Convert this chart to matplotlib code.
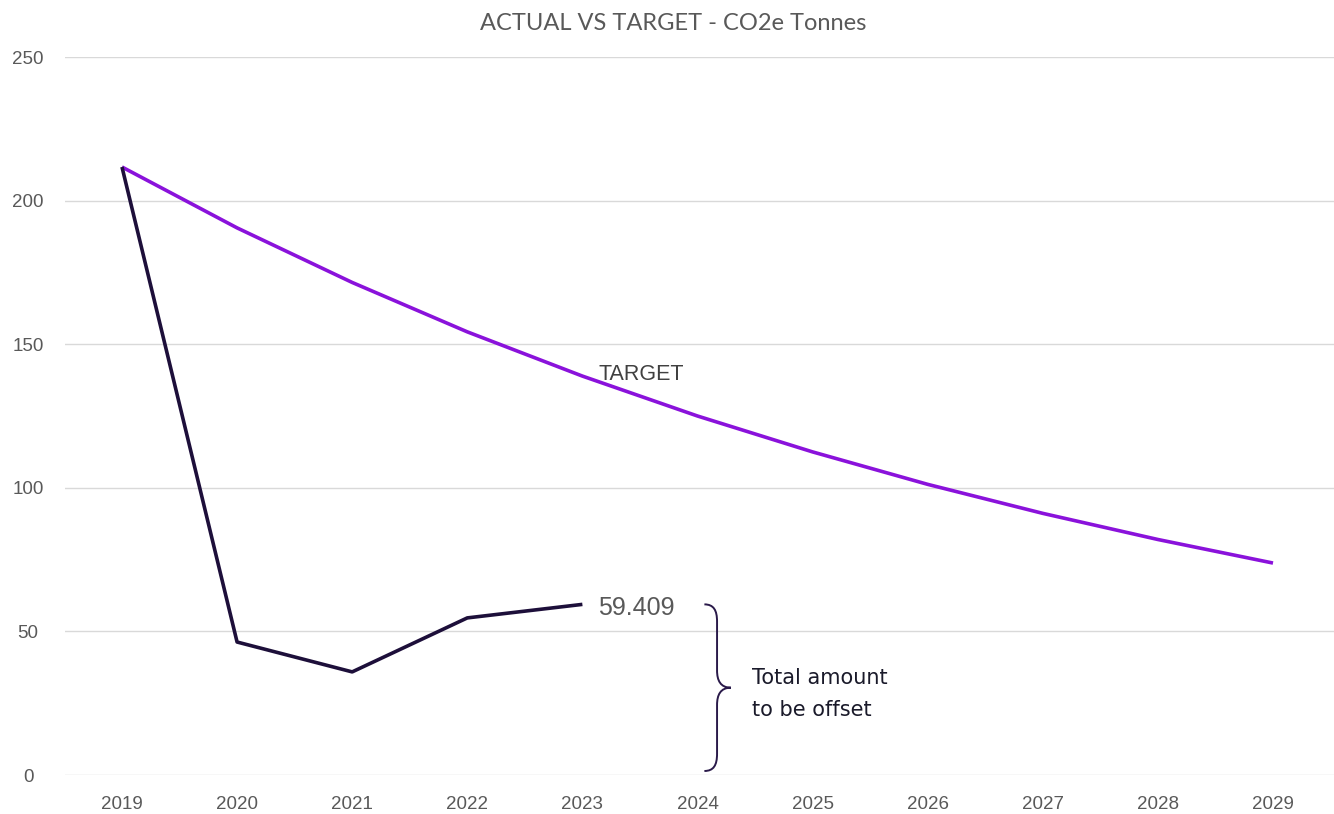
import matplotlib
matplotlib.use("Agg")
import matplotlib.pyplot as plt
from matplotlib.path import Path
from matplotlib.patches import PathPatch

years = [2019, 2020, 2021, 2022, 2023, 2024, 2025, 2026, 2027, 2028, 2029]
target = [211.7, 190.5, 171.5, 154.3, 138.9, 125.0, 112.5, 101.2, 91.1, 82.0, 73.8]
actual_years = [2019, 2020, 2021, 2022, 2023]
actual = [211.7, 46.3, 35.9, 54.7, 59.409]
yticks = [0, 50, 100, 150, 200, 250]
title = "ACTUAL VS TARGET - CO2e Tonnes"
target_label = "TARGET"
last_label = "59.409"
brace_text = "Total amount\nto be offset"

fig = plt.figure(figsize=(13.34, 8.14), dpi=100)
ax = fig.add_axes([65 / 1334, 1 - 775 / 814, 1 - 65 / 1334, (775 - 57) / 814])

ax.set_xlim(2018.505, 2029.53)
ax.set_ylim(0, 250)

ax.plot(years, target, color="#8a12db", lw=2.6, solid_capstyle="butt", zorder=3)
ax.plot(actual_years, actual, color="#1d0f3a", lw=2.6, solid_capstyle="butt", zorder=4)

for s in ax.spines.values():
    s.set_visible(False)
ax.set_yticks(yticks)
ax.set_xticks(years)
ax.grid(axis="y", color="#d9d9d9", lw=1.0)
ax.set_axisbelow(True)
ax.tick_params(length=0)
ax.tick_params(axis="y", pad=26.6)
ax.tick_params(axis="x", pad=15)
for lab in ax.get_yticklabels():
    lab.set_ha("center")
for lab in ax.get_yticklabels() + ax.get_xticklabels():
    lab.set_family("Liberation Sans")
    lab.set_fontsize(13.5)
    lab.set_color("#595959")

fig.text(673 / 1334, 1 - 23 / 814, title, ha="center", va="center",
         fontsize=17, color="#595959", family="Lato")

ax.text(2023.14, 137.6, target_label, ha="left", va="baseline",
        fontsize=15.5, color="#404040", family="Liberation Sans")
ax.text(actual_years[-1] + 0.14, actual[-1] - 1.1, last_label, ha="left", va="center",
        fontsize=18, color="#595959", family="Liberation Sans")

# curly brace spanning 0 .. last actual value
top = actual[-1]
bot = 1.4
mid = (top + bot) / 2
x0 = 2024.06
xs = 2024.17
xt = 2024.29
dy = 6.0
verts = [
    (x0, top), (x0 + 0.08, top), (xs, top - 2.0), (xs, top - dy),
    (xs, mid + dy),
    (xs, mid + 2.5), (xs + 0.03, mid), (xt, mid),
    (xs + 0.03, mid), (xs, mid - 2.5), (xs, mid - dy),
    (xs, bot + dy),
    (xs, bot + 2.0), (x0 + 0.08, bot), (x0, bot),
]
codes = [Path.MOVETO, Path.CURVE4, Path.CURVE4, Path.CURVE4,
         Path.LINETO,
         Path.CURVE4, Path.CURVE4, Path.CURVE4,
         Path.CURVE4, Path.CURVE4, Path.CURVE4,
         Path.LINETO,
         Path.CURVE4, Path.CURVE4, Path.CURVE4]
ax.add_patch(PathPatch(Path(verts, codes), fill=False, edgecolor="#2a1a4a",
                       lw=1.4, zorder=5, clip_on=False))

ax.text(2024.47, mid - 2.3, brace_text, ha="left", va="center", fontsize=15,
        color="#1a1a2a", family="DejaVu Sans", linespacing=1.75)

fig.savefig("out.png", dpi=100)
